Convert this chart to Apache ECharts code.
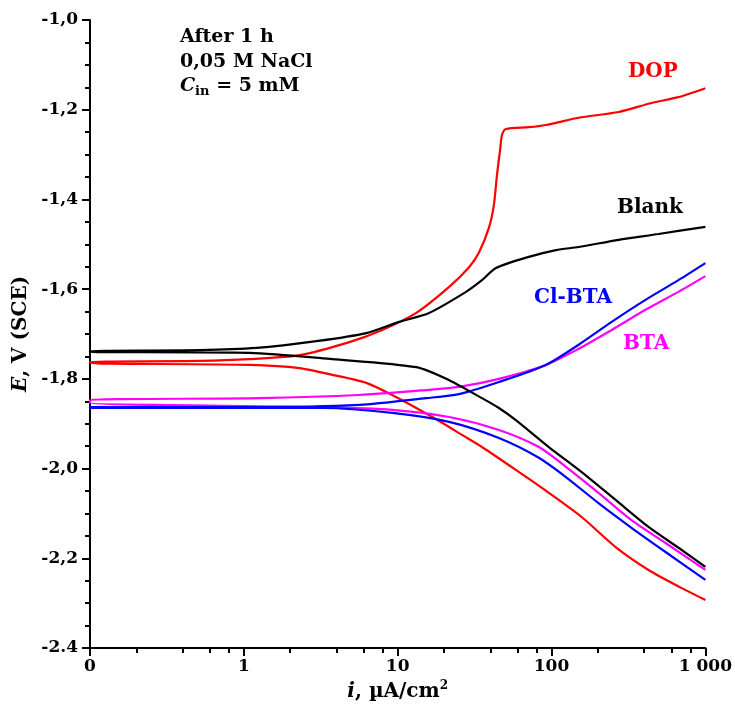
<!DOCTYPE html>
<html>
<head>
<meta charset="utf-8">
<script src="https://cdn.jsdelivr.net/npm/echarts@6/dist/echarts.min.js"></script>
<style>
html,body{margin:0;padding:0;background:#fff;}
#chart{width:735px;height:710px;}
</style>
</head>
<body>
<div id="chart"></div>
<script>
// ---- data: [current density i (µA/cm²), potential E (V vs SCE)] ----
const blankAnodic = [[0.1,-1.738],[0.516,-1.736],[1.21,-1.731],[2.96,-1.716],[6.25,-1.698],[10.2,-1.673],[16.0,-1.653],[27.8,-1.606],[35.3,-1.580],[43.5,-1.553],[71.2,-1.528],[107,-1.513],[150,-1.506],[273,-1.490],[496,-1.477],[1000,-1.461]];
const blankCathodic = [[0.1,-1.740],[1.09,-1.742],[3.76,-1.756],[13.2,-1.774],[21.6,-1.803],[35.3,-1.843],[45.5,-1.865],[58.6,-1.892],[96.0,-1.952],[157,-2.008],[261,-2.070],[427,-2.130],[698,-2.181],[1000,-2.219]];
const dopAnodic = [[0.1,-1.762],[0.516,-1.760],[1.09,-1.756],[2.30,-1.747],[4.85,-1.718],[7.94,-1.691],[13.2,-1.653],[21.6,-1.595],[29.1,-1.551],[33.7,-1.519],[39.2,-1.463],[42.2,-1.412],[44.2,-1.345],[46.3,-1.290],[47.6,-1.257],[50.5,-1.243],[71.2,-1.239],[91.8,-1.234],[150,-1.218],[273,-1.205],[447,-1.185],[668,-1.172],[1000,-1.152]];
const dopCathodic = [[0.1,-1.765],[1.09,-1.769],[2.30,-1.776],[3.76,-1.791],[6.25,-1.809],[9.21,-1.836],[13.2,-1.865],[18.6,-1.894],[26.2,-1.925],[35.3,-1.952],[58.6,-2.003],[96.0,-2.054],[157,-2.108],[261,-2.175],[427,-2.226],[698,-2.266],[1000,-2.293]];
const btaAnodic = [[0.1,-1.847],[1.26,-1.843],[5.63,-1.836],[15.3,-1.825],[25.0,-1.818],[45.5,-1.800],[91.8,-1.769],[150,-1.733],[246,-1.691],[408,-1.646],[668,-1.606],[1000,-1.571]];
const btaCathodic = [[0.1,-1.854],[3.24,-1.863],[9.21,-1.869],[21.6,-1.885],[45.5,-1.914],[82.7,-1.952],[124,-1.996],[202,-2.054],[331,-2.115],[551,-2.166],[1000,-2.226]];
const clbtaAnodic = [[0.1,-1.863],[1.09,-1.863],[5.63,-1.858],[15.3,-1.843],[25.0,-1.834],[45.5,-1.807],[91.8,-1.769],[150,-1.724],[246,-1.673],[408,-1.624],[668,-1.580],[1000,-1.542]];
const clbtaCathodic = [[0.1,-1.865],[3.24,-1.865],[9.21,-1.876],[21.6,-1.896],[45.5,-1.932],[82.7,-1.976],[124,-2.019],[202,-2.077],[331,-2.132],[551,-2.186],[1000,-2.248]];

const seriesNames = ['Blank','DOP','BTA','Cl-BTA'];
const xMajorTicks = [0.1, 1, 10, 100, 1000];
const xTickLabels = ['0', '1', '10', '100', '1 000'];
const xMinorTicks = [0.2,0.4,0.6,0.8, 2,4,6,8, 20,40,60,80, 200,400,600,800];
const yTickLabels = ['-2.4','-2,2','-2,0','-1,8','-1,6','-1,4','-1,2','-1,0'];
const noteLines = ['After 1 h', '0,05 M NaCl'];

const FONT = 'DejaVu Serif';
const colors = {'Blank':'#000000','DOP':'#ff0000','BTA':'#ff00ff','Cl-BTA':'#0000ff'};

function curve(cath, anod){ return cath.slice().reverse().concat(anod); }
const curves = {
  'Blank': curve(blankCathodic, blankAnodic),
  'DOP': curve(dopCathodic, dopAnodic),
  'BTA': curve(btaCathodic, btaAnodic),
  'Cl-BTA': curve(clbtaCathodic, clbtaAnodic)
};

const chart = echarts.init(document.getElementById('chart'));
const axisFont = {fontFamily: FONT, fontWeight: 'bold', fontSize: 17, color: '#000'};

const option = {
  backgroundColor: '#fff',
  animation: false,
  grid: {left: 90, right: 28, top: 20, bottom: 62, containLabel: false},
  xAxis: [{
    type: 'log', logBase: 10, min: 0.1, max: 1000,
    name: '{i|i}{t|, µA/cm}{sup|2}',
    nameLocation: 'middle', nameGap: 28,
    nameTextStyle: {
      rich: {
        i: {fontFamily: FONT, fontWeight: 'bold', fontStyle: 'italic', fontSize: 20, color: '#000', lineHeight: 24},
        t: {fontFamily: FONT, fontWeight: 'bold', fontSize: 20, color: '#000', lineHeight: 24},
        sup: {fontFamily: FONT, fontWeight: 'bold', fontSize: 12, color: '#000', verticalAlign: 'top', lineHeight: 14}
      }
    },
    axisLine: {show: true, onZero: false, lineStyle: {color: '#000', width: 2}},
    axisTick: {show: true, inside: false, length: 8, lineStyle: {color: '#000', width: 2}, customValues: xMajorTicks},
    axisLabel: Object.assign({margin: 10, customValues: xMajorTicks,
      formatter: function(v){ const k = xMajorTicks.findIndex(t => Math.abs(Math.log10(t) - Math.log10(v)) < 1e-6); return k >= 0 ? xTickLabels[k] : ''; }}, axisFont),
    splitLine: {show: false}
  }, {
    type: 'value', min: -1, max: 3, position: 'bottom', show: true,
    axisLine: {show: false, onZero: false},
    axisTick: {show: true, inside: false, length: 5, lineStyle: {color: '#000', width: 2}, customValues: xMinorTicks.map(v => Math.log10(v))},
    axisLabel: {show: false},
    splitLine: {show: false}
  }],
  yAxis: {
    type: 'value', min: -2.4, max: -1.0, interval: 0.2,
    name: '{i|E}{t|, V (SCE)}',
    nameLocation: 'middle', nameGap: 56, nameRotate: 90,
    nameTextStyle: {
      rich: {
        i: {fontFamily: FONT, fontWeight: 'bold', fontStyle: 'italic', fontSize: 20, color: '#000'},
        t: {fontFamily: FONT, fontWeight: 'bold', fontSize: 20, color: '#000'}
      }
    },
    axisLine: {show: true, onZero: false, lineStyle: {color: '#000', width: 2}},
    axisTick: {show: true, inside: false, length: 8, lineStyle: {color: '#000', width: 2}},
    minorTick: {show: true, splitNumber: 4, length: 5, lineStyle: {color: '#000', width: 2}},
    axisLabel: Object.assign({margin: 12,
      formatter: function(v){ const k = Math.round((v + 2.4) / 0.2); return yTickLabels[k] || ''; }}, axisFont),
    splitLine: {show: false}
  },
  series: seriesNames.map(n => ({
    name: n, type: 'line', xAxisIndex: 0, data: curves[n],
    showSymbol: false, smooth: 0.25,
    lineStyle: {color: colors[n], width: 2.2},
    itemStyle: {color: colors[n]},
    z: n === 'Blank' ? 3 : 2
  })),
  graphic: [
    {type: 'text', left: 180, top: 28, style: {text: noteLines[0], font: 'bold 19px "' + FONT + '"', fill: '#000'}},
    {type: 'text', left: 180, top: 53, style: {text: noteLines[1], font: 'bold 19px "' + FONT + '"', fill: '#000'}},
    {type: 'text', left: 180, top: 77, style: {
      text: '{c|C}{s|in}{t| = 5 mM}',
      rich: {
        c: {fontFamily: FONT, fontWeight: 'bold', fontStyle: 'italic', fontSize: 19, color: '#000', lineHeight: 24},
        s: {fontFamily: FONT, fontWeight: 'bold', fontSize: 13, color: '#000', verticalAlign: 'bottom', lineHeight: 16},
        t: {fontFamily: FONT, fontWeight: 'bold', fontSize: 19, color: '#000', lineHeight: 24}
      }}},
    {type: 'text', left: 628, top: 62, style: {text: 'DOP', font: 'bold 20px "' + FONT + '"', fill: colors['DOP']}},
    {type: 'text', left: 617, top: 198, style: {text: 'Blank', font: 'bold 20px "' + FONT + '"', fill: colors['Blank']}},
    {type: 'text', left: 534, top: 288, style: {text: 'Cl-BTA', font: 'bold 20px "' + FONT + '"', fill: colors['Cl-BTA']}},
    {type: 'text', left: 623, top: 334, style: {text: 'BTA', font: 'bold 20px "' + FONT + '"', fill: colors['BTA']}}
  ]
};
chart.setOption(option);
</script>
</body>
</html>
